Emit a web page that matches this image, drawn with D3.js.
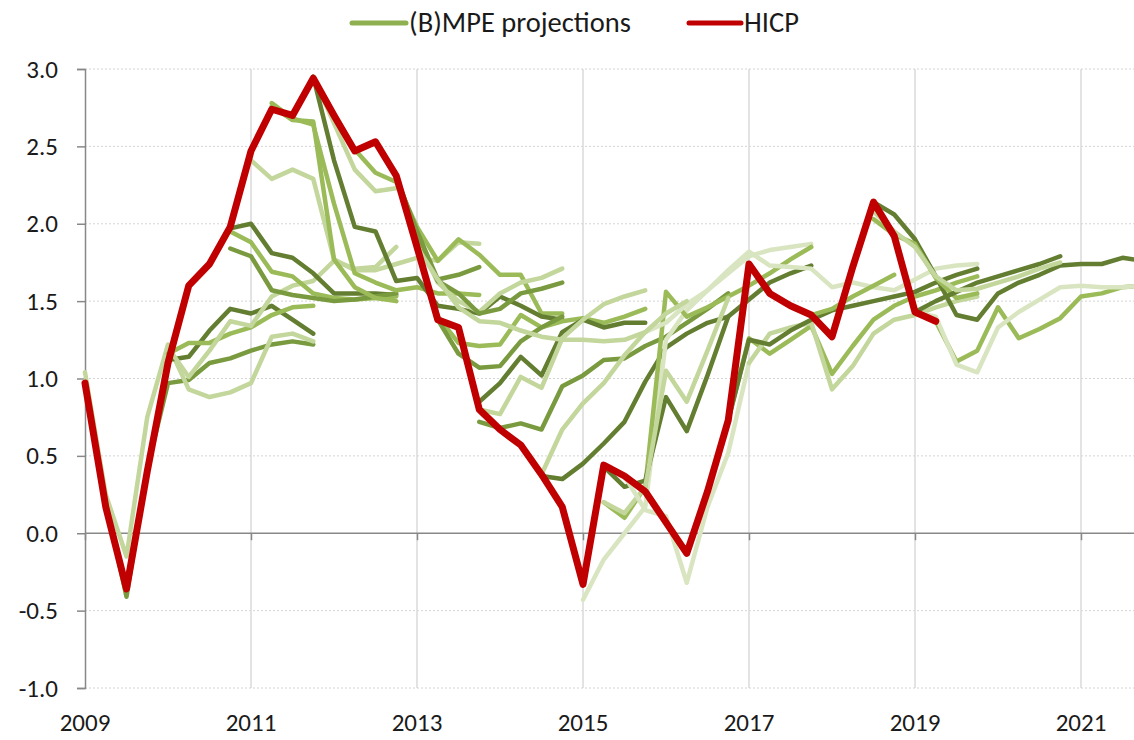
<!DOCTYPE html>
<html>
<head>
<meta charset="utf-8">
<script src="https://cdn.jsdelivr.net/npm/d3@7"></script>
<style>
  body { margin: 0; background: #fff; }
  svg text { font-family: Carlito, Calibri, Lato, sans-serif; fill: #1a1a1a; }
</style>
</head>
<body>
<svg id="chart" width="1134" height="740"></svg>
<script>
// quarterly data, index 0 = 2009Q1
var hicp = [0.97,0.17,-0.36,0.40,1.10,1.60,1.74,1.98,2.47,2.74,2.70,2.94,2.70,2.47,2.53,2.31,
  1.85,1.38,1.33,0.80,0.67,0.57,0.38,0.17,-0.33,0.44,0.37,0.27,0.07,-0.13,0.27,0.73,
  1.74,1.55,1.47,1.41,1.27,1.72,2.14,1.92,1.43,1.37];

// each projection vintage: first quarter index and its quarterly values
var projStart = [0,0,4,4,4, 7,7,7,8,9, 9,11,11,11,16, 16,15,15,15,19,
  19,16,19,22,24, 25,25,25,26,31, 32,27,31,35,38, 38,41,40,40,38, 23,22];

var projValues = [
  [0.98,0.20,-0.41,0.42,0.97,0.99,1.10,1.13,1.18,1.22,1.24,1.22],
  [1.04,0.25,-0.15,0.75,1.22,0.93,0.88,0.91,0.97,1.27,1.29,1.24],
  [1.12,1.14,1.31,1.45,1.42,1.47,1.38,1.29],
  [1.16,1.23,1.23,1.29,1.33,1.41,1.46,1.47],
  [1.20,1.01,1.18,1.37,1.34,1.53,1.60,1.63,1.76,1.71,1.72,1.85],
  [1.97,2.00,1.81,1.78,1.68,1.55,1.55,1.55,1.54],
  [1.95,1.88,1.69,1.66,1.55,1.52,1.51,1.52,1.53],
  [1.84,1.79,1.57,1.54,1.52,1.50,1.51,1.53,1.55],
  [2.41,2.29,2.35,2.29,1.77,1.70,1.70,1.74,1.78,1.76,1.88,1.87],
  [2.78,2.68,2.64,2.13,1.68,1.62,1.57,1.59,1.55,1.55,1.54],
  [2.76,2.67,2.66,1.77,1.59,1.52,1.50],
  [2.95,2.71,2.48,2.33,2.27,1.98,1.76,1.90,1.80,1.67,1.67,1.42,1.42],
  [2.95,2.65,2.35,2.21,2.23],
  [2.95,2.41,1.98,1.95,1.63,1.65,1.47,1.45,1.42,1.53,1.47,1.40,1.38],
  [1.85,1.40,1.23,1.21,1.22,1.41,1.33,1.37,1.39,1.36,1.40,1.45],
  [1.85,1.38,1.16,1.07,1.08,1.24,1.33,1.40],
  [2.30,1.90,1.62,1.50,1.43,1.55,1.62,1.65,1.71],
  [2.30,1.95,1.63,1.55,1.42,1.45,1.55,1.58,1.62],
  [2.30,1.95,1.64,1.67,1.72],
  [0.85,0.97,1.14,1.02,1.30,1.38,1.33,1.36,1.36],
  [0.80,0.77,1.01,0.94,1.26],
  [1.85,1.64,1.46,1.37,1.36,1.31,1.27,1.25,1.25,1.24,1.25,1.30],
  [0.72,0.68,0.71,0.67,0.95,1.02,1.12,1.13,1.21,1.27,1.36,1.45,1.55],
  [0.37,0.35,0.45,0.58,0.72,0.98,1.20,1.29,1.36,1.40,1.51,1.62,1.68,1.73],
  [-0.43,-0.17,0.00,0.17,1.25,1.44,1.57,1.68,1.79,1.83,1.85,1.87],
  [0.20,0.10,0.30,1.56,1.40,1.46,1.53,1.60,1.68,1.77,1.85],
  [0.43,0.30,0.34,0.88,0.66,1.02,1.40],
  [0.20,0.13,0.30,1.05,0.85,1.18,1.52],
  [0.37,0.15,0.11,-0.32,0.17,0.52,1.10],
  [0.73,1.26,1.16,1.25,1.34,1.03,1.21,1.38,1.47,1.53,1.57,1.62,1.66],
  [1.10,1.29,1.33,1.36,0.93,1.08,1.29,1.38,1.41,1.46,1.50,1.53],
  [1.30,1.36,1.48,1.57,1.70,1.82,1.73,1.72,1.71,1.59,1.62,1.59,1.57,1.64,1.71,1.73,1.74],
  [0.73,1.25,1.22,1.31,1.38,1.44,1.47,1.50,1.53,1.56,1.62,1.67,1.71],
  [1.41,1.45,1.53,1.60,1.67],
  [2.14,2.06,1.90,1.66,1.41,1.38,1.55,1.62,1.67,1.73,1.74,1.74,1.78,1.76],
  [2.03,1.93,1.87,1.65,1.52,1.55],
  [1.37,1.11,1.18,1.46,1.26,1.32,1.39,1.53,1.55,1.59,1.60],
  [1.43,1.40,1.09,1.04,1.33,1.43,1.51,1.59,1.60,1.59,1.59,1.60],
  [1.43,1.50,1.56,1.62,1.66,1.70,1.74,1.79],
  [2.08,1.95,1.85,1.66,1.57,1.58,1.62,1.66,1.71,1.75],
  [1.26,1.38,1.48,1.53,1.57],
  [0.38,0.67,0.84,0.97,1.15,1.30,1.42,1.50]
];

// shade of each vintage: 0 dark .. 4 very pale
var projShade = [1,3,0,2,3, 0,2,1,3,2, 2,2,3,0,2, 1,3,1,1,0,
  3,3,1,0,4, 2,0,3,4,2, 3,4,0,2,0, 2,2,4,0,3, 3,3];

var yearLabels = ["2009","2011","2013","2015","2017","2019","2021"];
var yTicks = [-1.0,-0.5,0.0,0.5,1.0,1.5,2.0,2.5,3.0];

var shades = ["#637d31","#7a9a3f","#9bbb59","#c3d69b","#d9e5c1"];

var svg = d3.select("#chart");

var x = d3.scaleLinear().domain([0, 48]).range([85, 1081]);
var y = d3.scaleLinear().domain([-1, 3]).range([688, 69]);

// horizontal gridlines
svg.append("g")
  .selectAll("line")
  .data(yTicks.filter(function(d) {return d !== 0;}))
  .enter().append("line")
  .attr("x1", 85).attr("x2", 1134)
  .attr("y1", function(d) {return y(d);})
  .attr("y2", function(d) {return y(d);})
  .attr("stroke", "#d4d4d4")
  .attr("stroke-width", 1)
  .attr("stroke-dasharray", "2,2");

// vertical gridlines every two years
svg.append("g")
  .selectAll("line")
  .data(yearLabels.slice(1))
  .enter().append("line")
  .attr("x1", function(d, i) {return x((i + 1) * 8);})
  .attr("x2", function(d, i) {return x((i + 1) * 8);})
  .attr("y1", y(3)).attr("y2", y(-1))
  .attr("stroke", "#dadada")
  .attr("stroke-width", 1.5);

// y axis
var yAxis = d3.axisLeft(y)
  .tickValues(yTicks)
  .tickSize(8)
  .tickPadding(19)
  .tickFormat(d3.format(".1f"));

var gy = svg.append("g")
  .attr("transform", "translate(85,0)")
  .call(yAxis);
gy.select(".domain").attr("stroke", "#888").attr("stroke-width", 1.5);
gy.selectAll(".tick line").attr("stroke", "#888").attr("stroke-width", 1.5);
gy.selectAll(".tick text")
  .style("font-size", "25px")
  .style("font-family", "Carlito, Calibri, Lato, sans-serif")
  .attr("fill", "#1a1a1a")
  .text(function(d) {return d < 0 ? "-" + Math.abs(d).toFixed(1) : d.toFixed(1);});

// x axis along zero
var xAxis = d3.axisBottom(x)
  .tickValues(d3.range(0, 49, 8))
  .tickSize(7)
  .tickFormat("");

var gx = svg.append("g")
  .attr("transform", "translate(0," + y(0) + ")")
  .call(xAxis);
gx.select(".domain").attr("stroke", "#888").attr("stroke-width", 1.5).attr("d", "M85,0H1134");
gx.selectAll(".tick line").attr("stroke", "#888").attr("stroke-width", 1.5);

svg.append("g")
  .selectAll("text")
  .data(yearLabels)
  .enter().append("text")
  .attr("x", function(d, i) {return x(i * 8);})
  .attr("y", 731)
  .attr("text-anchor", "middle")
  .style("font-size", "25px")
  .text(function(d) {return d;});

var line = d3.line()
  .x(function(d) {return x(d.q);})
  .y(function(d) {return y(d.v);});

var projSeries = projValues.map(function(vals, k) {
  return vals.map(function(v, j) {return {q: projStart[k] + j, v: v};});
});

svg.append("g")
  .selectAll("path")
  .data(projSeries)
  .enter().append("path")
  .attr("d", line)
  .attr("fill", "none")
  .attr("stroke", function(d, k) {return shades[projShade[k]];})
  .attr("stroke-width", 4.5)
  .attr("stroke-linejoin", "round")
  .attr("stroke-linecap", "round");

svg.append("path")
  .datum(hicp.map(function(v, i) {return {q: i, v: v};}))
  .attr("d", line)
  .attr("fill", "none")
  .attr("stroke", "#c00000")
  .attr("stroke-width", 7)
  .attr("stroke-linejoin", "round")
  .attr("stroke-linecap", "round");

// legend
var legend = svg.append("g");
legend.append("line")
  .attr("x1", 352).attr("x2", 406).attr("y1", 23).attr("y2", 23)
  .attr("stroke", "#8fb050").attr("stroke-width", 5).attr("stroke-linecap", "round");
legend.append("text")
  .attr("x", 409).attr("y", 32)
  .style("font-size", "28.5px")
  .text("(B)MPE projections");
legend.append("line")
  .attr("x1", 689).attr("x2", 741).attr("y1", 23).attr("y2", 23)
  .attr("stroke", "#c00000").attr("stroke-width", 5).attr("stroke-linecap", "round");
legend.append("text")
  .attr("x", 744).attr("y", 32)
  .style("font-size", "28.5px")
  .text("HICP");
</script>
</body>
</html>
